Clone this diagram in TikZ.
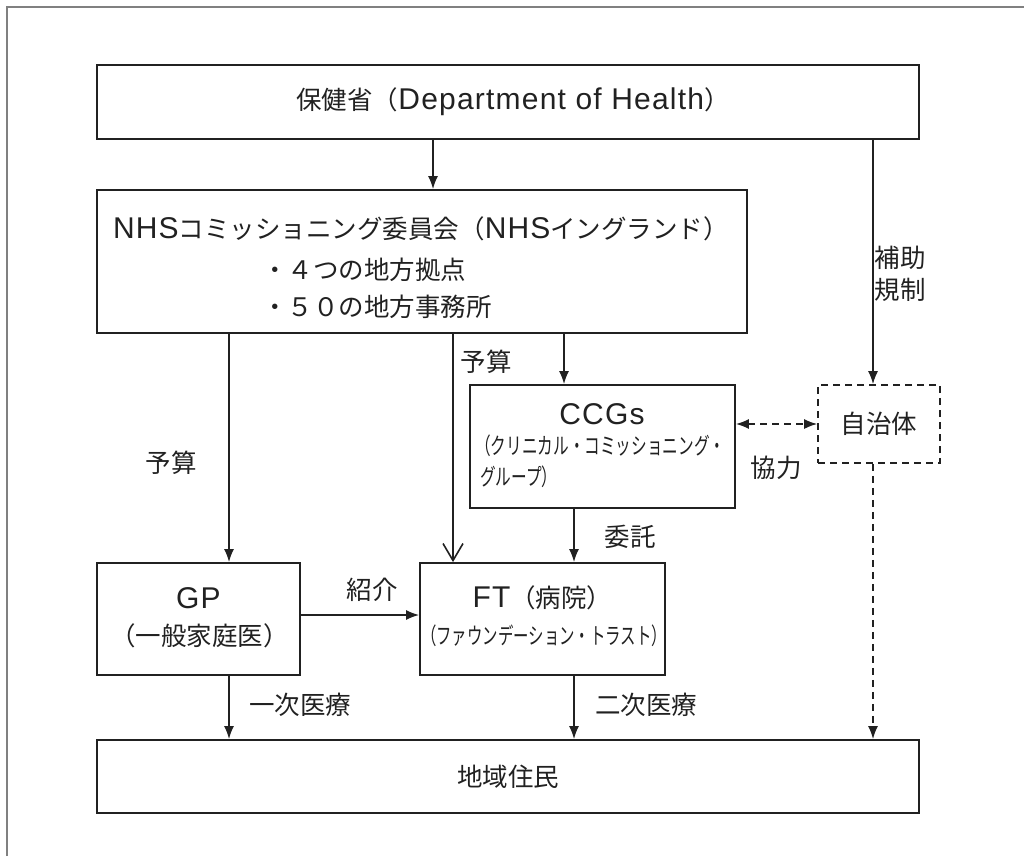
\documentclass[tikz,border=0pt]{standalone}
\usepackage{fontspec}
\setmainfont{Noto Sans CJK JP}
\newfontfamily\latfont[LetterSpace=4]{Liberation Sans}
\newcommand{\lat}[1]{{\latfont\fontsize{30}{38}\selectfont #1}}
\usepackage{tikz}
\usetikzlibrary{arrows.meta, positioning, calc}
\definecolor{lineBlack}{gray}{0.13}
\definecolor{frameGray}{gray}{0.5}

\tikzset{
    box/.style={draw=lineBlack, line width=1.8pt, inner sep=0pt, align=center},
    lgbox/.style={draw=lineBlack, line width=1.6pt, dash pattern=on 7pt off 5pt, inner sep=0pt, align=center},
    txt/.style={inner sep=0pt, text=lineBlack, font=\fontsize{25.5}{38}\selectfont},
    small/.style={inner sep=0pt, anchor=west, text=lineBlack, font=\fontsize{23}{30}\selectfont},
    conn/.style={->, line width=1.6pt, lineBlack},
}

\begin{document}
\begin{tikzpicture}[x=1pt, y=-1pt, >={Latex[length=13pt,width=10pt]}]
    \useasboundingbox (0,0) rectangle (1024,856);
    \draw[frameGray, line width=1.5pt] (7,856) -- (7,7) -- (1024,7);

    % boxes
    \node[box, minimum width=822pt, minimum height=74pt] (dh) at (508,102) {};
    \node[txt] (dhA) at (513,102) {保健省（\lat{Department of Health}）};
    \node[box, minimum width=650pt, minimum height=143pt] (nhs) at (422,261.5) {};
    \node[txt] (nhsA) at (421,229) {\lat{NHS}コミッショニング委員会（\lat{NHS}イングランド）};
    \node[txt, anchor=west] (nhsB) at (262,270) {・４つの地方拠点};
    \node[txt, anchor=west] (nhsC) at (262,307) {・５０の地方事務所};

    \node[box, minimum width=265pt, minimum height=123pt] (ccg) at (602.5,446.5) {};
    \node[txt] (ccgA) at (602,414) {\lat{CCGs}};
    \node[small] (ccgB) at (475,446) {\scalebox{0.68}[1]{（クリニカル・コミッショニング・}};
    \node[small] (ccgC) at (480,477) {\scalebox{0.68}[1]{グループ）}};

    \node[lgbox, minimum width=122pt, minimum height=78pt, txt] (lg) at (879,424) {自治体};

    \node[box, minimum width=203pt, minimum height=112pt] (gp) at (198.5,619) {};
    \node[txt] (gpA) at (198.5,598) {\lat{GP}};
    \node[txt] (gpB) at (199.5,636) {（一般家庭医）};

    \node[box, minimum width=245pt, minimum height=112pt] (ft) at (542.5,619) {};
    \node[txt] (ftA) at (542.5,598) {\lat{FT}（病院）};
    \node[small, anchor=center] (ftB) at (544,636) {\scalebox{0.67}[1]{（ファウンデーション・トラスト）}};

    \node[box, minimum width=822pt, minimum height=73pt] (res) at (508,776.5) {};
    \node[txt] (resA) at (508,776.5) {地域住民};

    % columns
    \coordinate (colA) at (229,0);
    \coordinate (colB) at (453,0);
    \coordinate (colC) at (564,0);
    \coordinate (colD) at (574,0);
    \coordinate (colE) at (873,0);

    % connectors
    \draw[conn] (dh.south -| 433,0) -- (nhs.north -| 433,0);
    \draw[conn] (dh.south -| colE) -- (lg.north -| colE);
    \draw[conn] (nhs.south -| colA) -- (gp.north -| colA);
    \draw[line width=1.6pt, lineBlack, -{Straight Barb[length=17pt,width=20pt]}] (nhs.south -| colB) -- (ft.north -| colB);
    \draw[conn] (nhs.south -| colC) -- (ccg.north -| colC);
    \draw[conn] (ccg.south -| colD) -- (ft.north -| colD);
    \draw[conn] (gp.east |- 0,615) -- (ft.west |- 0,615);
    \draw[conn, dash pattern=on 7pt off 5pt, <->] (ccg.east |- lg.west) -- (lg.west);
    \draw[conn, dash pattern=on 7pt off 5pt] (lg.south -| colE) -- (res.north -| colE);
    \draw[conn] (gp.south -| colA) -- (res.north -| colA);
    \draw[conn] (ft.south -| colD) -- (res.north -| colD);

    % labels
    \node[txt] (lbA) at (900,258) {補助};
    \node[txt] (lbB) at (900,290) {規制};
    \node[txt] (lbC) at (486,362) {予算};
    \node[txt] (lbD) at (171,463) {予算};
    \node[txt] (lbE) at (372,590) {紹介};
    \node[txt] (lbF) at (630,537) {委託};
    \node[txt] (lbG) at (776,468) {協力};
    \node[txt] (lbH) at (300,705) {一次医療};
    \node[txt] (lbI) at (646,705) {二次医療};
\end{tikzpicture}
\end{document}
